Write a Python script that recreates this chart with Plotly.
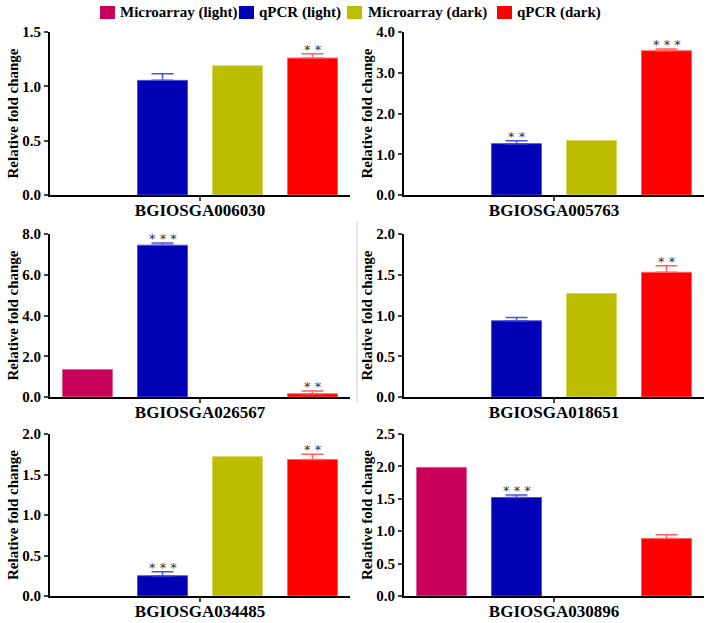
import plotly.graph_objects as go

genes = ["BGIOSGA006030", "BGIOSGA005763", "BGIOSGA026567",
         "BGIOSGA018651", "BGIOSGA034485", "BGIOSGA030896"]
series_names = ["Microarray (light)", "qPCR (light)", "Microarray (dark)", "qPCR (dark)"]
micro_light = [None, None, 1.35, None, None, 1.985]
qpcr_light = [1.055, 1.26, 7.45, 0.935, 0.25, 1.52]
qpcr_light_err = [0.06, 0.07, 0.11, 0.04, 0.05, 0.04]
micro_dark = [1.19, 1.34, None, 1.27, 1.72, None]
qpcr_dark = [1.26, 3.54, 0.16, 1.53, 1.685, 0.887]
qpcr_dark_err = [0.04, 0.04, 0.13, 0.08, 0.065, 0.06]
light_sig = ["", "* *", "* * *", "", "* * *", "* * *"]
dark_sig = ["* *", "* * *", "* *", "* *", "* *", ""]
y_max = [1.5, 4.0, 8.0, 2.0, 2.0, 2.5]
y_step = [0.5, 1.0, 2.0, 0.5, 0.5, 0.5]

colors = ["#C8005A", "#0000B4", "#BDBD00", "#FF0000"]
edge = ["#E0609A", "#5050E0", "#D8D860", "#FF6060"]

W, H = 708, 623
FONT = "Liberation Serif"

left_dom = [50 / W, 350 / W]
right_dom = [404 / W, 704 / W]
rows = [(32, 195), (234, 397), (434, 596)]

fig = go.Figure()

values = [micro_light, qpcr_light, micro_dark, qpcr_dark]
errs = [None, qpcr_light_err, None, qpcr_dark_err]

for p in range(6):
    r, c = divmod(p, 2)
    ax = "" if p == 0 else str(p + 1)
    xref, yref = "x" + ax, "y" + ax
    for s in range(4):
        v = values[s][p]
        kw = {}
        if errs[s] is not None:
            kw["error_y"] = dict(type="data", symmetric=False, array=[errs[s][p]],
                                 arrayminus=[0], color=edge[s], thickness=1.5, width=11)
        fig.add_trace(go.Bar(
            x=[s], y=[v], name=series_names[s], width=0.667,
            marker=dict(color=colors[s], line=dict(color=edge[s], width=1)),
            showlegend=False, legendgroup=series_names[s],
            xaxis=xref, yaxis=yref, **kw))
    # significance marks
    for s, sig, errl in [(1, light_sig, qpcr_light_err), (3, dark_sig, qpcr_dark_err)]:
        if sig[p]:
            fig.add_annotation(x=s, y=values[s][p] + errl[p], xref=xref, yref=yref,
                               text=sig[p], showarrow=False, yanchor="bottom",
                               yshift=-5, font=dict(family="DejaVu Sans", size=13, color="#333333"))
    top, bot = rows[r]
    dom_x = left_dom if c == 0 else right_dom
    fig.layout["xaxis" + ax] = dict(
        domain=dom_x, range=[-0.5, 3.5], anchor=yref, tickmode="array", tickvals=[1.5],
        ticktext=[genes[p]], ticks="outside", ticklen=4, tickwidth=1.5, automargin=False,
        ticklabelstandoff=-5,
        showline=True, linecolor="black", linewidth=2, showgrid=False, zeroline=False,
        tickfont=dict(family=FONT, size=17, color="black", weight="bold"), fixedrange=True)
    fig.layout["yaxis" + ax] = dict(
        domain=[1 - bot / H, 1 - top / H], range=[0, y_max[p]], anchor=xref,
        tick0=0, dtick=y_step[p], tickformat=".1f", ticks="outside", ticklen=4,
        tickwidth=1.5, showline=True, linecolor="black", linewidth=2, showgrid=False,
        zeroline=False, automargin=False,
        tickfont=dict(family=FONT, size=15, color="black", weight="bold"),
        title=dict(text="Relative fold change", standoff=0,
                   font=dict(family=FONT, size=15, color="black", weight="bold")))

# legend drawn as key swatches + labels across the top
legend_sq_x = [100, 239, 347, 497]
legend_tx_x = [118, 257, 366, 515]
for s in range(4):
    fig.add_shape(type="rect", xref="paper", yref="paper",
                  x0=legend_sq_x[s] / W, x1=(legend_sq_x[s] + 15) / W,
                  y0=1 - 19 / H, y1=1 - 6 / H,
                  fillcolor=colors[s], line=dict(width=0))
    fig.add_annotation(x=legend_tx_x[s] / W, y=1 - 12.5 / H, xref="paper", yref="paper",
                       text=series_names[s], showarrow=False, xanchor="left", yanchor="middle",
                       font=dict(family=FONT, size=15, color="black", weight="bold"))

fig.add_shape(type="line", xref="paper", yref="paper", x0=357 / W, x1=357 / W,
              y0=1 - 402 / H, y1=1 - 222 / H, line=dict(color="#CCCCCC", width=1))

fig.update_layout(
    width=W, height=H, margin=dict(l=0, r=0, t=0, b=0, autoexpand=False),
    paper_bgcolor="white", plot_bgcolor="white", barmode="overlay",
    showlegend=False,
)

fig.write_html("out.html", config={"displayModeBar": False},
               post_script="document.body.style.margin='0px';")
